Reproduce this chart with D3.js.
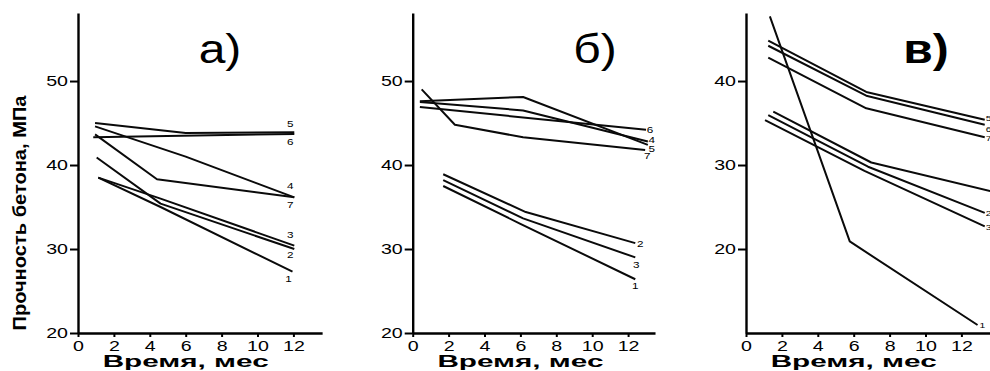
<!DOCTYPE html>
<html>
<head>
<meta charset="utf-8">
<script src="https://cdn.jsdelivr.net/npm/d3@7"></script>
<style>
  html, body { margin: 0; padding: 0; background: #fff; }
  svg { display: block; }
  text { font-family: "Liberation Sans", Arial, sans-serif; fill: #000; }
</style>
</head>
<body>
<svg id="chart" width="990" height="371"></svg>
<script>
// Прочность бетона во времени: три серии опытов (а, б, в), по 7 составов в каждой.
const seriesNames = ["1", "2", "3", "4", "5", "6", "7"];
const xTicks = [0, 2, 4, 6, 8, 10, 12];
const yTicksAB = [20, 30, 40, 50];
const yTicksC = [20, 30, 40];
const panelTitles = ["а)", "б)", "в)"];
const yAxisTitle = "Прочность бетона, МПа";
const xAxisTitle = "Время, мес";

// [месяц, МПа] для составов 1..7
const seriesA = [
  [[1.13, 38.5], [4.6, 35.0], [11.95, 27.3]],
  [[1.04, 40.9], [4.6, 35.4], [12.05, 30.0]],
  [[1.13, 38.5], [4.6, 36.0], [12.05, 30.4]],
  [[0.95, 44.6], [6.0, 41.0], [12.05, 36.15]],
  [[0.95, 45.0], [6.0, 43.8], [12.05, 43.9]],
  [[0.85, 43.3], [12.05, 43.7]],
  [[0.95, 43.65], [4.4, 38.3], [12.05, 36.15]]
];
const seriesB = [
  [[1.7, 37.5], [6.0, 33.0], [12.4, 26.4]],
  [[1.7, 38.9], [6.3, 34.4], [12.4, 30.7]],
  [[1.7, 38.2], [6.15, 33.65], [12.4, 29.0]],
  [[0.4, 47.5], [6.15, 46.5], [13.1, 42.8]],
  [[0.4, 47.6], [6.15, 48.1], [13.1, 42.4]],
  [[0.4, 46.9], [13.0, 44.2]],
  [[0.5, 49.0], [2.35, 44.8], [6.15, 43.3], [12.95, 41.8]]
];
const seriesC = [
  [[1.33, 47.7], [5.78, 20.9], [12.9, 10.95]],
  [[1.24, 35.95], [6.8, 29.8], [13.3, 24.3]],
  [[1.06, 35.35], [6.6, 29.3], [13.3, 22.7]],
  [[1.52, 36.35], [6.98, 30.3], [13.6, 26.9]],
  [[1.24, 44.8], [6.7, 38.7], [13.3, 35.4]],
  [[1.24, 44.2], [6.7, 38.25], [13.3, 34.8]],
  [[1.24, 42.8], [6.7, 36.75], [13.3, 33.3]]
];

// ---- layout ----
const PX_PER_MONTH = 17.95;
const Y_BOTTOM = 333, Y_TOP = 13;

const panels = [
  { x0: 78, xMax: 13.6, yDomain: [20, 58.1], yTicks: yTicksAB, data: seriesA,
    title: panelTitles[0], titleX: 220, titleBold: false,
    labelOffsets: [[-4, 7], [-4, 6], [-4, -11], [-4, -12], [-4, -9], [-4, 8], [-4, 7]],
    labelAnchor: "middle", labelSize: 9 },
  { x0: 412.7, xMax: 13.5, yDomain: [20, 58.1], yTicks: yTicksAB, data: seriesB,
    title: panelTitles[1], titleX: 595, titleBold: false,
    labelOffsets: [[0, 7], [5, 1], [1, 7], [4, -2], [4, 4], [4, 0], [2, 6]],
    labelAnchor: "middle", labelSize: 9 },
  { x0: 746, xMax: 13.8, yDomain: [10, 48.1], yTicks: yTicksC, data: seriesC,
    title: panelTitles[2], titleX: 926, titleBold: true,
    labelOffsets: [[2, 0], [1, 0], [1, 1], null, [1, -2], [1, 4], [1, 1]],
    labelAnchor: "start", labelSize: 8 }
];

const svg = d3.select("#chart");

// stretch text horizontally along its run
function stretch(sel, f) {
  sel.each(function () {
    const w = this.getComputedTextLength();
    d3.select(this).attr("textLength", w * f).attr("lengthAdjust", "spacingAndGlyphs");
  });
}

panels.forEach((p, pi) => {
  const x = d3.scaleLinear().domain([0, p.xMax]).range([p.x0, p.x0 + p.xMax * PX_PER_MONTH]);
  const y = d3.scaleLinear().domain(p.yDomain).range([Y_BOTTOM, Y_TOP]);
  const g = svg.append("g");

  // axes
  const yAxis = g.append("g")
    .attr("transform", `translate(${p.x0},0)`)
    .call(d3.axisLeft(y).tickValues(p.yTicks).tickSize(8).tickSizeOuter(0).tickPadding(2).tickFormat(d3.format("d")));
  const xAxis = g.append("g")
    .attr("transform", `translate(0,${Y_BOTTOM})`)
    .call(d3.axisBottom(x).tickValues(xTicks).tickSize(4).tickSizeOuter(0).tickPadding(4).tickFormat(d3.format("d")));

  [yAxis, xAxis].forEach(ax => {
    ax.select(".domain").attr("stroke", "#000").attr("stroke-width", 2.4);
    ax.selectAll(".tick line").attr("stroke", "#000").attr("stroke-width", 2);
    ax.selectAll(".tick text").attr("font-size", 14).attr("fill", "#000")
      .style("font-family", '"Liberation Sans", Arial, sans-serif');
    stretch(ax.selectAll(".tick text"), 1.4);
  });

  // series lines
  const line = d3.line().x(d => x(d[0])).y(d => y(d[1]));
  g.selectAll("path.series")
    .data(p.data)
    .join("path")
    .attr("class", "series")
    .attr("d", line)
    .attr("fill", "none")
    .attr("stroke", "#0a0a0a")
    .attr("stroke-width", 2)
    .attr("stroke-linejoin", "round");

  // series numbers at line ends
  const labels = g.selectAll("text.lbl")
    .data(p.data.map((s, i) => ({ s, i })).filter(d => p.labelOffsets[d.i]))
    .join("text")
    .attr("class", "lbl")
    .attr("x", d => x(d.s[d.s.length - 1][0]) + p.labelOffsets[d.i][0])
    .attr("y", d => y(d.s[d.s.length - 1][1]) + p.labelOffsets[d.i][1])
    .attr("dy", "0.36em")
    .attr("text-anchor", p.labelAnchor)
    .attr("font-size", p.labelSize)
    .text(d => seriesNames[d.i]);
  stretch(labels, 1.3);

  // panel letter
  const t = g.append("text")
    .attr("x", p.titleX)
    .attr("y", 63)
    .attr("text-anchor", "middle")
    .attr("font-size", 40)
    .attr("font-weight", p.titleBold ? "bold" : "normal")
    .text(p.title);
  stretch(t, 1.2);

  // time axis title
  g.append("text")
    .attr("x", x(6))
    .attr("y", 367)
    .attr("text-anchor", "middle")
    .attr("font-size", 16)
    .attr("font-weight", "bold")
    .attr("textLength", 166)
    .attr("lengthAdjust", "spacingAndGlyphs")
    .text(xAxisTitle);
});

// strength axis title
svg.append("text")
  .attr("transform", "translate(26,213) rotate(-90)")
  .attr("text-anchor", "middle")
  .attr("font-size", 18)
  .attr("font-weight", "bold")
  .attr("textLength", 235)
  .attr("lengthAdjust", "spacingAndGlyphs")
  .text(yAxisTitle);
</script>
</body>
</html>
